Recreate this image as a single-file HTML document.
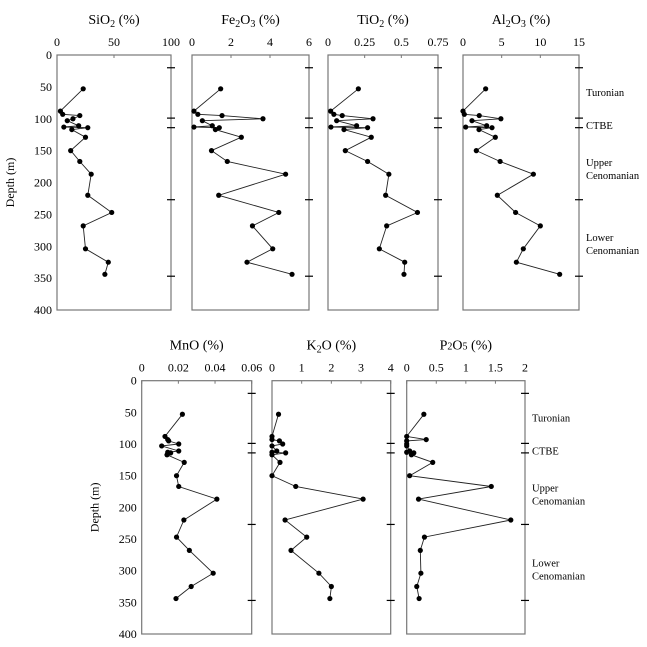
<!DOCTYPE html>
<html><head><meta charset="utf-8">
<style>
html,body{margin:0;padding:0;background:#fff;}
svg, svg text{font-family:"Liberation Serif","Times New Roman",serif;}
</style></head>
<body>
<svg id="chart" width="647" height="642" viewBox="0 0 647 642" xmlns="http://www.w3.org/2000/svg" font-family="Liberation Serif, serif"></svg>
<script>
const depths = [53,88,93,95,100,103,111,113,114,117,129,150,167,187,220,247,268,304,325,344];
const sio2 = [23,3,5,20,14,9,19,6,27,13,25,12,20,30,27,48,23,25,45,42];
const fe2o3 = [1.47,0.1,0.3,1.54,3.64,0.53,1.04,0.1,1.4,1.2,2.53,1.0,1.81,4.8,1.37,4.45,3.1,4.14,2.82,5.13];
const tio2 = [0.207,0.018,0.04,0.097,0.307,0.059,0.195,0.02,0.27,0.109,0.295,0.118,0.27,0.415,0.393,0.61,0.40,0.35,0.523,0.518];
const al2o3 = [2.93,0,0.17,2.1,4.9,1.16,3.06,0.35,3.75,2.07,4.18,1.72,4.8,9.1,4.44,6.8,10.0,7.8,6.9,12.5];
const mno = [0.0222,0.0127,0.0142,0.0147,0.0202,0.0109,0.0202,0.0142,0.0158,0.0138,0.0232,0.019,0.0202,0.041,0.023,0.019,0.026,0.039,0.027,0.0187];
const k2o = [0.22,0,0,0.25,0.36,0,0.16,0,0.46,0,0.27,0,0.8,3.07,0.44,1.17,0.64,1.58,2.0,1.95];
const p2o5 = [0.29,0,0.33,0,0,0,0.05,0,0.12,0.08,0.44,0.05,1.43,0.2,1.76,0.3,0.23,0.24,0.17,0.21];
const depthTicks = [0,50,100,150,200,250,300,350,400];
const boundaryDepths = [20,99,114,227,347];
const sio2Ticks = ["0","50","100"], fe2o3Ticks = ["0","2","4","6"], tio2Ticks = ["0","0.25","0.5","0.75"],
      al2o3Ticks = ["0","5","10","15"], mnoTicks = ["0","0.02","0.04","0.06"], k2oTicks = ["0","1","2","3","4"],
      p2o5Ticks = ["0","0.5","1","1.5","2"];

const NS = "http://www.w3.org/2000/svg";
const FF = '"Liberation Serif", serif';
const svg = document.getElementById('chart');
function mk(tag, attrs, parent, text){
  const e = document.createElementNS(NS, tag);
  for (const k in attrs) e.setAttribute(k, attrs[k]);
  if (tag === 'text') e.setAttribute('font-family', FF);
  if (text !== undefined) e.textContent = text;
  (parent || svg).appendChild(e);
  return e;
}
const rows = [{y0:55, y1:310}, {y0:380.7, y1:634}];
// title parts: [text, isSub]
const panels = [
  {id:'sio2', title:[['SiO',0],['2',1],[' (%)',0]], x0:57, x1:171, max:100, vals:sio2, ticks:sio2Ticks, row:0, yaxis:true},
  {id:'fe2o3', title:[['Fe',0],['2',1],['O',0],['3',1],[' (%)',0]], x0:192, x1:309, max:6, vals:fe2o3, ticks:fe2o3Ticks, row:0},
  {id:'tio2', title:[['TiO',0],['2',1],[' (%)',0]], x0:328, x1:438, max:0.75, vals:tio2, ticks:tio2Ticks, row:0},
  {id:'al2o3', title:[['Al',0],['2',1],['O',0],['3',1],[' (%)',0]], x0:463, x1:579, max:15, vals:al2o3, ticks:al2o3Ticks, row:0, stages:true},
  {id:'mno', title:[['MnO (%)',0]], x0:141.7, x1:251.7, max:0.06, vals:mno, ticks:mnoTicks, row:1, yaxis:true},
  {id:'k2o', title:[['K',0],['2',1],['O (%)',0]], x0:272, x1:390.7, max:4, vals:k2o, ticks:k2oTicks, row:1},
  {id:'p2o5', title:[['P',0],['2',2],['O',0],['5',2],[' (%)',0]], x0:406.7, x1:525, max:2, vals:p2o5, ticks:p2o5Ticks, row:1, stages:true}
];
panels.forEach(p => {
  const r = rows[p.row];
  const g = mk('g', {});
  
  
  const xs = v => p.x0 + (v / p.max) * (p.x1 - p.x0);
  const ys = d => r.y0 + (d / 400) * (r.y1 - r.y0);
  const frame = mk('rect', {x:p.x0, y:r.y0, width:p.x1-p.x0, height:r.y1-r.y0, fill:'none', stroke:'#777', 'stroke-width':1.2}, g);
  
  
  const t = mk('text', {x:(p.x0+p.x1)/2, y:r.y0-31, 'text-anchor':'middle', 'font-size':14}, g);
  
  
  let lowered = false;
  p.title.forEach(([s, sub]) => {
    const a = {};
    if (sub === 1) { a['font-size'] = 10; a.dy = 3; lowered = true; }
    else if (sub === 2) { a['font-size'] = 10; }
    else if (lowered) { a.dy = -3; lowered = false; }
    const ts = mk('tspan', a, t, s);
    ts.setAttribute('font-family', FF);
  });
  p.ticks.forEach((lab, i) => {
    const v = i * p.max / (p.ticks.length - 1);
    const x = xs(v);
    const tl = mk('text', {x:x, y:r.y0-9, 'text-anchor':'middle', 'font-size':12}, g, lab);
    
    
    mk('line', {x1:x, x2:x, y1:r.y0, y2:r.y0+3, stroke:'#777'}, g);
  });
  boundaryDepths.forEach(d => {
    const bt = mk('line', {x1:p.x1-4, x2:p.x1+4, y1:ys(d), y2:ys(d), stroke:'#000', 'stroke-width':1.2}, g);
    
    
  });
  if (p.yaxis) {
    depthTicks.forEach(d => {
      const yl = mk('text', {x:p.x0-5, y:ys(d)+4, 'text-anchor':'end', 'font-size':12}, g, String(d));
      
      
    });
    const cy = (r.y0 + r.y1) / 2;
    const cx = p.x0 - 43;
    const yt = mk('text', {x:cx, y:cy, 'text-anchor':'middle', 'font-size':12, transform:`rotate(-90 ${cx} ${cy})`}, g, 'Depth (m)');
    
    
  }
  const pts = p.vals.map((v, i) => xs(v).toFixed(1) + ',' + ys(depths[i]).toFixed(1)).join(' ');
  const line = mk('polyline', {points:pts, fill:'none', stroke:'#222', 'stroke-width':0.9}, g);
  
  
  p.vals.forEach((v, i) => {
    const c = mk('circle', {cx:xs(v), cy:ys(depths[i]), r:2.6, fill:'#000'}, g);
    
    
  });
  if (p.stages) {
    const lx = p.x1 + 7;
    const labs = [['Turonian', 37], ['CTBE', 70], ['Upper', 107], ['Cenomanian', 120], ['Lower', 182], ['Cenomanian', 195]];
    labs.forEach(([s, dy]) => {
      const sl = mk('text', {x:lx, y:r.y0 + dy + 4, 'font-size':10.5}, g, s);
      
      
    });
  }
});
</script>
</body></html>
